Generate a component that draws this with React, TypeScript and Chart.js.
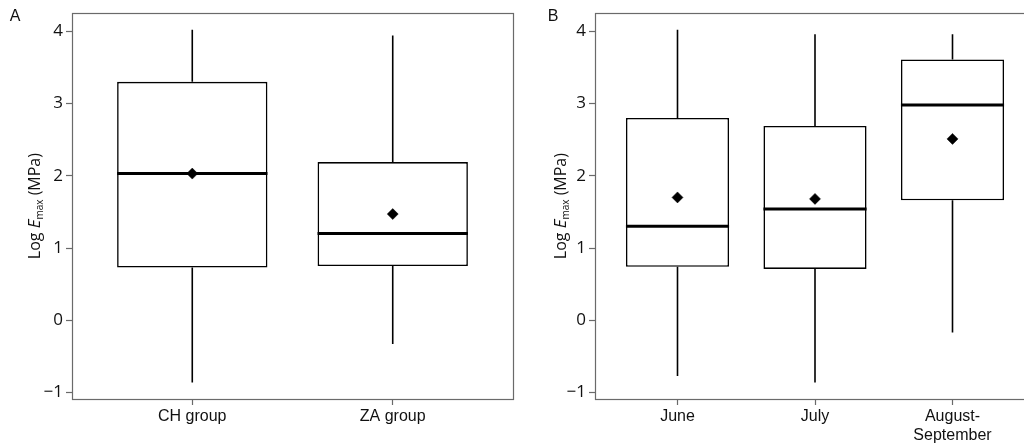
import React, { useEffect, useRef } from "react";
import { Chart, registerables } from "chart.js";

Chart.register(...registerables);

// ---------- data ----------
const yTickValues = [-1, 0, 1, 2, 3, 4];

const panelACategories: (string | string[])[] = ["CH group", "ZA group"];
const panelAWhiskerLow = [-0.86, -0.33];
const panelAQ1 = [0.73, 0.75];
const panelAMedian = [2.03, 1.2];
const panelAQ3 = [3.3, 2.19];
const panelAWhiskerHigh = [4.02, 3.94];
const panelAMean = [2.03, 1.47];

const panelBCategories: (string | string[])[] = ["June", "July", ["August-", "September"]];
const panelBWhiskerLow = [-0.77, -0.86, -0.17];
const panelBQ1 = [0.74, 0.71, 1.66];
const panelBMedian = [1.3, 1.54, 2.98];
const panelBQ3 = [2.8, 2.69, 3.61];
const panelBWhiskerHigh = [4.02, 3.96, 3.96];
const panelBMean = [1.7, 1.68, 2.51];

type PanelProps = {
  letter: string;
  categories: (string | string[])[];
  low: number[];
  q1: number[];
  median: number[];
  q3: number[];
  high: number[];
  mean: number[];
  left: number;
  width: number;
  axisWidth: number;
  padRight: number;
  titleX: number;
  letterX: number;
};

const FRAME = "#6a6a6a";
const TEXT = "#111111";

function BoxPanel(p: PanelProps) {
  const ref = useRef<HTMLCanvasElement | null>(null);

  useEffect(() => {
    const canvas = ref.current;
    if (!canvas) return;
    const n = p.categories.length;

    const boxPlugin = {
      id: "boxExtras",
      beforeDraw(chart: any) {
        const { ctx } = chart;
        ctx.save();
        ctx.fillStyle = "#ffffff";
        ctx.fillRect(0, 0, chart.width, chart.height);
        ctx.restore();
      },
      beforeDatasetsDraw(chart: any) {
        const { ctx, scales } = chart;
        const xs = scales.x;
        const ys = scales.y;
        ctx.save();
        ctx.strokeStyle = "#000";
        ctx.lineWidth = 1.6;
        for (let i = 0; i < n; i++) {
          const x = xs.getPixelForValue(i);
          ctx.beginPath();
          ctx.moveTo(x, ys.getPixelForValue(p.high[i]));
          ctx.lineTo(x, ys.getPixelForValue(p.q3[i]));
          ctx.moveTo(x, ys.getPixelForValue(p.q1[i]));
          ctx.lineTo(x, ys.getPixelForValue(p.low[i]));
          ctx.stroke();
        }
        ctx.restore();
      },
      afterDatasetDraw(chart: any, args: any) {
        if (args.index !== 0) return;
        const { ctx, scales } = chart;
        const ys = scales.y;
        const meta = chart.getDatasetMeta(0);
        ctx.save();
        ctx.strokeStyle = "#000";
        ctx.lineWidth = 3;
        for (let i = 0; i < n; i++) {
          const el = meta.data[i];
          const w = el.width;
          const y = ys.getPixelForValue(p.median[i]);
          ctx.beginPath();
          ctx.moveTo(el.x - w / 2, y);
          ctx.lineTo(el.x + w / 2, y);
          ctx.stroke();
        }
        ctx.restore();
      },
      afterDraw(chart: any) {
        const { ctx, chartArea } = chart;
        ctx.save();
        ctx.strokeStyle = FRAME;
        ctx.lineWidth = 1.2;
        ctx.strokeRect(
          Math.round(chartArea.left) + 0.5,
          Math.round(chartArea.top) + 0.5,
          Math.round(chartArea.right - chartArea.left),
          Math.round(chartArea.bottom - chartArea.top)
        );
        // panel letter
        ctx.fillStyle = TEXT;
        ctx.font = "16px 'Liberation Sans', Arial, sans-serif";
        ctx.textAlign = "center";
        ctx.textBaseline = "middle";
        ctx.fillText(p.letter, p.letterX, 17);
        // y-axis title: Log E_max (MPa)
        const cy = (chartArea.top + chartArea.bottom) / 2;
        ctx.translate(p.titleX, cy);
        ctx.rotate(-Math.PI / 2);
        const normal = "16px 'Open Sans', sans-serif";
        const italic = "italic 17px 'Open Sans', sans-serif";
        const sub = "10px 'Open Sans', sans-serif";
        const parts = [
          { t: "Log ", f: normal, dy: 0 },
          { t: "E", f: italic, dy: 0 },
          { t: "max", f: sub, dy: 3 },
          { t: " (MPa)", f: normal, dy: 0 },
        ];
        let total = 0;
        const widths = parts.map((pt) => {
          ctx.font = pt.f;
          const w = ctx.measureText(pt.t).width;
          total += w;
          return w;
        });
        let x = -total / 2;
        ctx.textAlign = "left";
        ctx.textBaseline = "alphabetic";
        parts.forEach((pt, i) => {
          ctx.font = pt.f;
          ctx.fillText(pt.t, x, 6 + pt.dy);
          x += widths[i];
        });
        ctx.restore();
      },
    };

    const chart = new Chart(canvas, {
      type: "bar",
      data: {
        datasets: [
          {
            type: "bar",
            data: p.categories.map((_, i) => ({ x: i, y: [p.q1[i], p.q3[i]] })) as any,
            backgroundColor: "#ffffff",
            borderColor: "#000000",
            borderWidth: 1.6,
            borderSkipped: false,
            barPercentage: 1,
            categoryPercentage: 0.75,
            order: 2,
          } as any,
          {
            type: "scatter",
            data: p.mean.map((m, i) => ({ x: i, y: m })),
            pointStyle: "rectRot",
            pointRadius: 5.5,
            pointBorderWidth: 0.5,
            backgroundColor: "#000000",
            borderColor: "#000000",
            order: 0,
          } as any,
        ],
      },
      options: {
        responsive: false,
        animation: false,
        devicePixelRatio: 1,
        layout: { padding: { top: 9, right: p.padRight, left: 0, bottom: 0 } },
        plugins: {
          legend: { display: false },
          tooltip: { enabled: false },
          title: { display: false },
        },
        scales: {
          x: {
            type: "linear",
            offset: false,
            min: -0.6,
            max: n - 0.4,
            afterBuildTicks: (s: any) => {
              s.ticks = p.categories.map((_, i) => ({ value: i }));
            },
            afterFit: (s: any) => {
              s.height = 49;
            },
            ticks: {
              autoSkip: false,
              maxRotation: 0,
              minRotation: 0,
              padding: 2,
              color: TEXT,
              font: { family: "'Liberation Sans', Arial, sans-serif", size: 16 },
              callback: (v: any) => p.categories[Math.round(Number(v))] as any,
            },
            grid: {
              display: true,
              offset: false,
              drawOnChartArea: false,
              drawTicks: true,
              tickLength: 6,
              tickWidth: 1.2,
              color: FRAME,
            },
            border: { display: false },
          },
          y: {
            type: "linear",
            min: -1.09,
            max: 4.25,
            afterBuildTicks: (s: any) => {
              s.ticks = yTickValues.map((v) => ({ value: v }));
            },
            afterFit: (s: any) => {
              s.width = p.axisWidth;
            },
            ticks: {
              padding: 3,
              color: TEXT,
              font: { family: "'Open Sans', sans-serif", size: 17 },
              callback: (v: any) => {
                const num = Number(v);
                return num < 0 ? "\u2212" + Math.abs(num) : String(num);
              },
            },
            grid: {
              display: true,
              drawOnChartArea: false,
              drawTicks: true,
              tickLength: 6,
              tickWidth: 1.2,
              color: FRAME,
            },
            border: { display: false },
          },
        },
      } as any,
      plugins: [boxPlugin],
    });

    return () => chart.destroy();
  }, []);

  return (
    <canvas
      ref={ref}
      width={p.width}
      height={448}
      style={{ position: "absolute", left: p.left, top: 0, width: p.width, height: 448 }}
    />
  );
}

export default function App() {
  return (
    <div
      style={{
        position: "fixed",
        left: 0,
        top: 0,
        width: 1024,
        height: 448,
        overflow: "hidden",
        background: "#ffffff",
      }}
    >
      <BoxPanel
        letter="A"
        categories={panelACategories}
        low={panelAWhiskerLow}
        q1={panelAQ1}
        median={panelAMedian}
        q3={panelAQ3}
        high={panelAWhiskerHigh}
        mean={panelAMean}
        left={0}
        width={520}
        axisWidth={72}
        padRight={7}
        titleX={34}
        letterX={15}
      />
      <BoxPanel
        letter="B"
        categories={panelBCategories}
        low={panelBWhiskerLow}
        q1={panelBQ1}
        median={panelBMedian}
        q3={panelBQ3}
        high={panelBWhiskerHigh}
        mean={panelBMean}
        left={520}
        width={530}
        axisWidth={75}
        padRight={15}
        titleX={40}
        letterX={33}
      />
    </div>
  );
}
